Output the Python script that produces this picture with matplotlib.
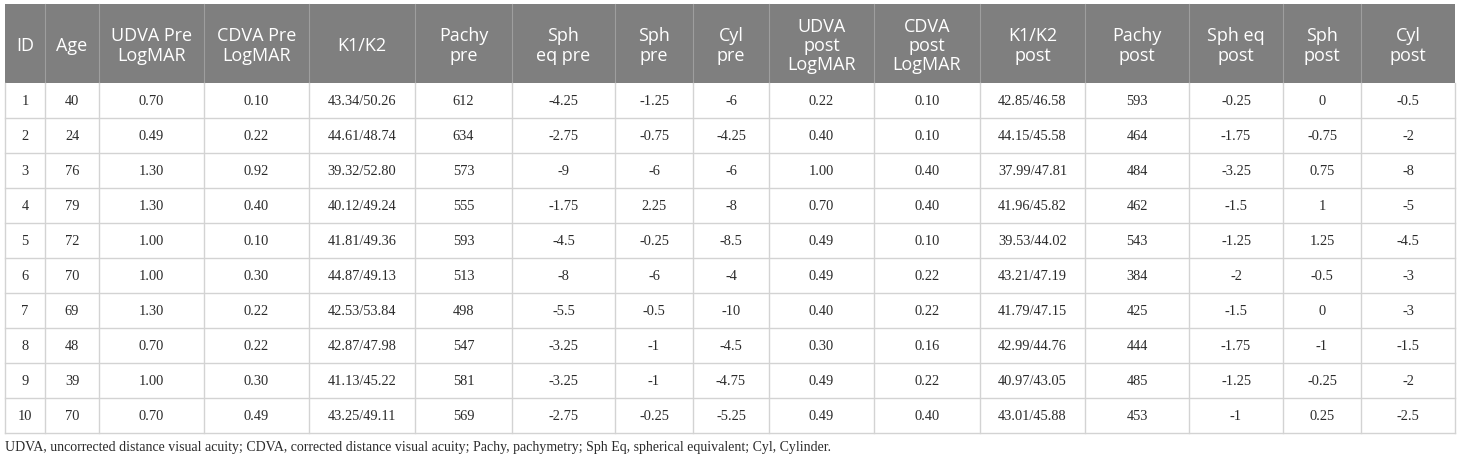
import matplotlib
matplotlib.use("Agg")
import matplotlib.pyplot as plt
from matplotlib.patches import Rectangle

# column headers
headers = ["ID", "Age", "UDVA Pre\nLogMAR", "CDVA Pre\nLogMAR", "K1/K2", "Pachy\npre",
           "Sph\neq pre", "Sph\npre", "Cyl\npre", "UDVA\npost\nLogMAR", "CDVA\npost\nLogMAR",
           "K1/K2\npost", "Pachy\npost", "Sph eq\npost", "Sph\npost", "Cyl\npost"]

# table data, one list per column
ids = ["1", "2", "3", "4", "5", "6", "7", "8", "9", "10"]
age = ["40", "24", "76", "79", "72", "70", "69", "48", "39", "70"]
udva_pre = ["0.70", "0.49", "1.30", "1.30", "1.00", "1.00", "1.30", "0.70", "1.00", "0.70"]
cdva_pre = ["0.10", "0.22", "0.92", "0.40", "0.10", "0.30", "0.22", "0.22", "0.30", "0.49"]
k_pre = ["43.34/50.26", "44.61/48.74", "39.32/52.80", "40.12/49.24", "41.81/49.36",
         "44.87/49.13", "42.53/53.84", "42.87/47.98", "41.13/45.22", "43.25/49.11"]
pachy_pre = ["612", "634", "573", "555", "593", "513", "498", "547", "581", "569"]
spheq_pre = ["-4.25", "-2.75", "-9", "-1.75", "-4.5", "-8", "-5.5", "-3.25", "-3.25", "-2.75"]
sph_pre = ["-1.25", "-0.75", "-6", "2.25", "-0.25", "-6", "-0.5", "-1", "-1", "-0.25"]
cyl_pre = ["-6", "-4.25", "-6", "-8", "-8.5", "-4", "-10", "-4.5", "-4.75", "-5.25"]
udva_post = ["0.22", "0.40", "1.00", "0.70", "0.49", "0.49", "0.40", "0.30", "0.49", "0.49"]
cdva_post = ["0.10", "0.10", "0.40", "0.40", "0.10", "0.22", "0.22", "0.16", "0.22", "0.40"]
k_post = ["42.85/46.58", "44.15/45.58", "37.99/47.81", "41.96/45.82", "39.53/44.02",
          "43.21/47.19", "41.79/47.15", "42.99/44.76", "40.97/43.05", "43.01/45.88"]
pachy_post = ["593", "464", "484", "462", "543", "384", "425", "444", "485", "453"]
spheq_post = ["-0.25", "-1.75", "-3.25", "-1.5", "-1.25", "-2", "-1.5", "-1.75", "-1.25", "-1"]
sph_post = ["0", "-0.75", "0.75", "1", "1.25", "-0.5", "0", "-1", "-0.25", "0.25"]
cyl_post = ["-0.5", "-2", "-8", "-5", "-4.5", "-3", "-3", "-1.5", "-2", "-2.5"]

columns = [ids, age, udva_pre, cdva_pre, k_pre, pachy_pre, spheq_pre, sph_pre, cyl_pre,
           udva_post, cdva_post, k_post, pachy_post, spheq_post, sph_post, cyl_post]

footnote = ("UDVA, uncorrected distance visual acuity; CDVA, corrected distance visual acuity; "
            "Pachy, pachymetry; Sph Eq, spherical equivalent; Cyl, Cylinder.")

# layout in pixels
W, H = 1460, 460
col_edges = [5, 45, 99, 204, 309, 415, 512, 615, 693, 769, 874, 980, 1085, 1189, 1283, 1361, 1455]
head_top, head_bot = 5, 84
row_h = 35
n_rows = len(ids)

HEAD_BG = "#7f7f7f"
GRID = "#d3d3d3"

fig = plt.figure(figsize=(W / 100, H / 100), dpi=100)
ax = fig.add_axes([0, 0, 1, 1])
ax.set_xlim(0, W)
ax.set_ylim(H, 0)
ax.axis("off")

# header band
ax.add_patch(Rectangle((col_edges[0], head_top), col_edges[-1] - col_edges[0],
                       head_bot - head_top, facecolor=HEAD_BG, edgecolor="none"))
for x in col_edges[1:-1]:
    ax.plot([x, x], [head_top, head_bot], color="#9e9e9e", lw=0.8)

for i, h in enumerate(headers):
    cx = (col_edges[i] + col_edges[i + 1]) / 2
    ax.text(cx, (head_top + head_bot) / 2 + 1.5, h, ha="center", va="center",
            color="white", fontsize=13, family="Open Sans", linespacing=1.1)

# body grid
body_bot = head_bot + n_rows * row_h
for r in range(1, n_rows + 1):
    y = head_bot + r * row_h
    ax.plot([col_edges[0], col_edges[-1]], [y, y], color=GRID, lw=1)
for x in col_edges:
    ax.plot([x, x], [head_bot, body_bot], color=GRID, lw=1)

# cell text
for c, vals in enumerate(columns):
    cx = (col_edges[c] + col_edges[c + 1]) / 2
    for r, v in enumerate(vals):
        cy = head_bot + r * row_h + row_h / 2
        ax.text(cx, cy, v, ha="center", va="center", color="#2b2b2b",
                fontsize=10.4, family="Liberation Serif")

ax.text(col_edges[0], body_bot + 14, footnote, ha="left", va="center",
        color="#2b2b2b", fontsize=10, family="Liberation Serif")

fig.savefig("out.png", dpi=100, facecolor="white")
